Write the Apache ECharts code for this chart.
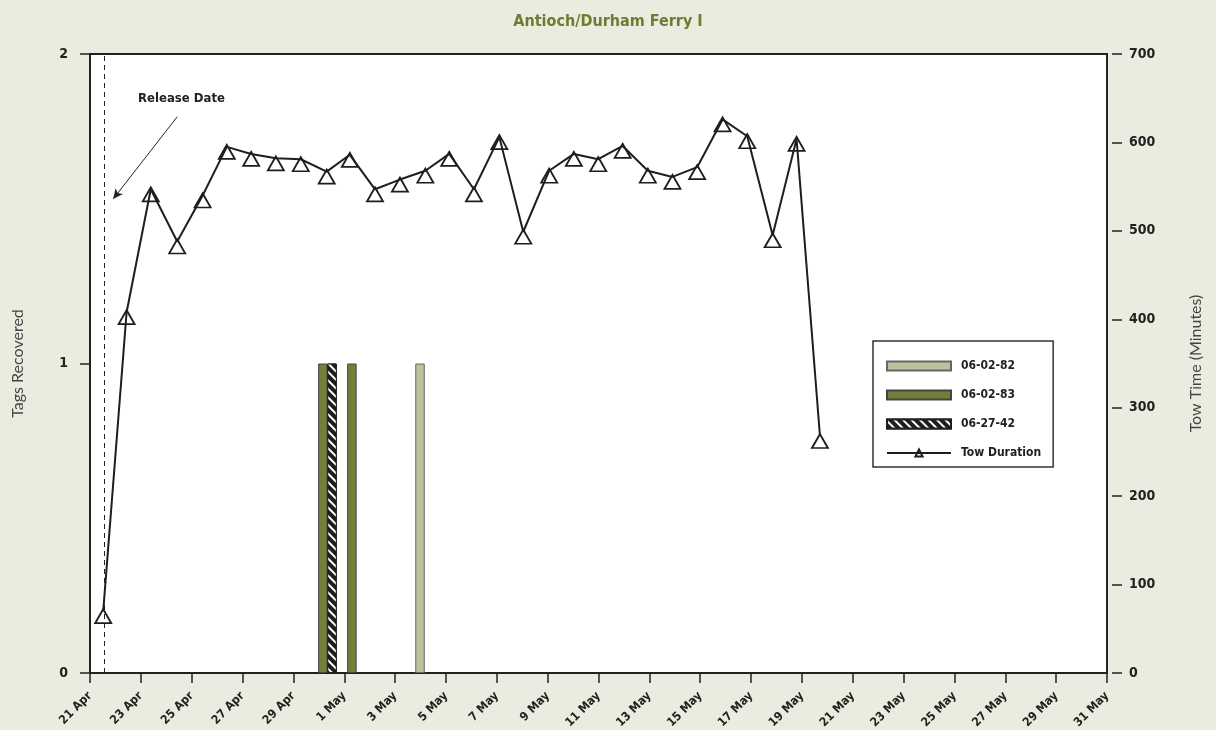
<!DOCTYPE html>
<html>
<head>
<meta charset="utf-8">
<script src="https://cdn.jsdelivr.net/npm/echarts@6/dist/echarts.min.js"></script>
<style>
html,body{margin:0;padding:0;background:#ebebdf;}
#chart{width:1216px;height:730px;}
</style>
</head>
<body>
<div id="chart"></div>
<script>
// x values are days after 21 Apr
const tickLabels = ['21 Apr','23 Apr','25 Apr','27 Apr','29 Apr','1 May','3 May','5 May','7 May','9 May','11 May','13 May','15 May','17 May','19 May','21 May','23 May','25 May','27 May','29 May','31 May'];
const towDay = [0.52, 1.44, 2.39, 3.43, 4.43, 5.38, 6.34, 7.31, 8.29, 9.31, 10.22, 11.21, 12.19, 13.19, 14.13, 15.10, 16.10, 17.04, 18.06, 19.03, 19.99, 20.95, 21.94, 22.91, 23.88, 24.88, 25.85, 26.85, 27.79, 28.71];
const towMinutes = [70, 408, 547, 488, 540, 595, 587, 582, 581, 567, 586, 547, 558, 568, 587, 547, 606, 499, 568, 587, 581, 596, 568, 561, 572, 626, 607, 495, 604, 268];
const tag0602_82Day = [12.98];
const tag0602_82Count = [1];
const tag0602_83Day = [9.16, 10.30];
const tag0602_83Count = [1, 1];
const tag0627_42Day = [9.52];
const tag0627_42Count = [1];
const releaseDay = 0.56;

const narrow = "'Liberation Sans Narrow', 'DejaVu Sans Condensed', 'Roboto', sans-serif";
const zip = (xs, ys) => xs.map((x, i) => [x, ys[i]]);

const chart = echarts.init(document.getElementById('chart'));
chart.setOption({
  backgroundColor: '#ebebdf',
  animation: false,
  title: {
    text: 'Antioch/Durham Ferry I',
    left: 'center', top: 9,
    textStyle: {color: '#6e7b31', fontFamily: narrow, fontWeight: 'bold', fontSize: 16}
  },
  grid: {
    left: 90, right: 109, top: 54, bottom: 57,
    containLabel: false, outerBoundsMode: 'none',
    show: true, backgroundColor: '#ffffff', borderColor: '#222', borderWidth: 2
  },
  legend: {
    orient: 'vertical',
    left: 873, top: 341,
    padding: [17, 12, 6, 13],
    itemGap: 13,
    itemWidth: 64, itemHeight: 9,
    backgroundColor: '#ffffff',
    borderColor: '#333', borderWidth: 1.5,
    textStyle: {fontFamily: narrow, fontWeight: 'bold', fontSize: 12, color: '#222', lineHeight: 16, padding: [0, 0, 0, 5]},
    data: [
      {name: '06-02-82', icon: 'rect'},
      {name: '06-02-83', icon: 'rect'},
      {name: '06-27-42', icon: 'rect'},
      {name: 'Tow Duration'}
    ]
  },
  xAxis: {
    type: 'value', min: 0, max: 40, interval: 2,
    offset: 7,
    axisLine: {show: false},
    splitLine: {show: false},
    axisTick: {show: true, length: 10, lineStyle: {color: '#222', width: 1.5}},
    axisLabel: {
      rotate: 45, margin: 14,
      fontFamily: narrow, fontWeight: 'bold', fontSize: 12, color: '#222',
      formatter: v => tickLabels[Math.round(v / 2)]
    }
  },
  yAxis: [
    {
      type: 'value', min: 0, max: 2, interval: 1, position: 'left',
      offset: 4,
      name: 'Tags Recovered', nameLocation: 'middle', nameGap: 60, nameRotate: 90,
      nameTextStyle: {fontFamily: "'Lato', 'Open Sans', sans-serif", fontSize: 16, color: '#444'},
      axisLine: {show: false},
      splitLine: {show: false},
      axisTick: {show: true, length: 10, lineStyle: {color: '#222', width: 1.5}},
      axisLabel: {margin: 18, fontFamily: narrow, fontWeight: 'bold', fontSize: 14, color: '#222'}
    },
    {
      type: 'value', min: 0, max: 700, interval: 100, position: 'right',
      offset: 5,
      name: 'Tow Time (Minutes)', nameLocation: 'middle', nameGap: 76, nameRotate: 90,
      nameTextStyle: {fontFamily: "'Lato', 'Open Sans', sans-serif", fontSize: 16, color: '#444'},
      axisLine: {show: false},
      splitLine: {show: false},
      axisTick: {show: true, length: 10, lineStyle: {color: '#222', width: 1.5}},
      axisLabel: {margin: 17, fontFamily: narrow, fontWeight: 'bold', fontSize: 14, color: '#222'}
    }
  ],
  series: [
    {
      name: '06-02-82', type: 'bar', yAxisIndex: 0,
      barWidth: 9.5, barGap: '-100%',
      itemStyle: {color: '#bcc29b', borderColor: '#666', borderWidth: 1},
      data: zip(tag0602_82Day, tag0602_82Count)
    },
    {
      name: '06-02-83', type: 'bar', yAxisIndex: 0,
      barWidth: 9.5, barGap: '-100%',
      itemStyle: {color: '#737e38', borderColor: '#444', borderWidth: 1},
      data: zip(tag0602_83Day, tag0602_83Count)
    },
    {
      name: '06-27-42', type: 'bar', yAxisIndex: 0,
      barWidth: 9.5, barGap: '-100%',
      itemStyle: {
        color: '#1e1e1e', borderColor: '#1e1e1e', borderWidth: 1,
        decal: {symbol: 'rect', color: '#ffffff', dashArrayX: [1, 0], dashArrayY: [2, 4], rotation: Math.PI / 4, symbolSize: 1}
      },
      data: zip(tag0627_42Day, tag0627_42Count)
    },
    {
      name: 'Tow Duration', type: 'line', yAxisIndex: 1, z: 5,
      symbol: 'triangle', symbolSize: [16, 14], symbolOffset: [0, 5],
      lineStyle: {color: '#1e1e1e', width: 2},
      itemStyle: {color: 'rgba(255,255,255,0)', borderColor: '#1e1e1e', borderWidth: 1.8},
      data: zip(towDay, towMinutes),
      markLine: {
        silent: true,
        symbol: ['none', 'none'],
        label: {show: false},
        lineStyle: {color: '#222', type: [5, 4], width: 1},
        data: [
          {xAxis: releaseDay},
          [
            {coord: [3.43, 629], symbol: 'none'},
            {coord: [0.91, 536], symbol: 'arrow', symbolSize: [7, 10], lineStyle: {type: 'solid', width: 1, color: '#222'}}
          ]
        ]
      },
      markPoint: {
        silent: true,
        symbol: 'rect', symbolSize: 1,
        itemStyle: {color: 'rgba(0,0,0,0)'},
        label: {show: true, position: 'inside', formatter: 'Release Date', fontFamily: narrow, fontWeight: 'bold', fontSize: 13, color: '#222'},
        data: [{coord: [3.6, 649]}]
      }
    }
  ]
});
</script>
</body>
</html>
